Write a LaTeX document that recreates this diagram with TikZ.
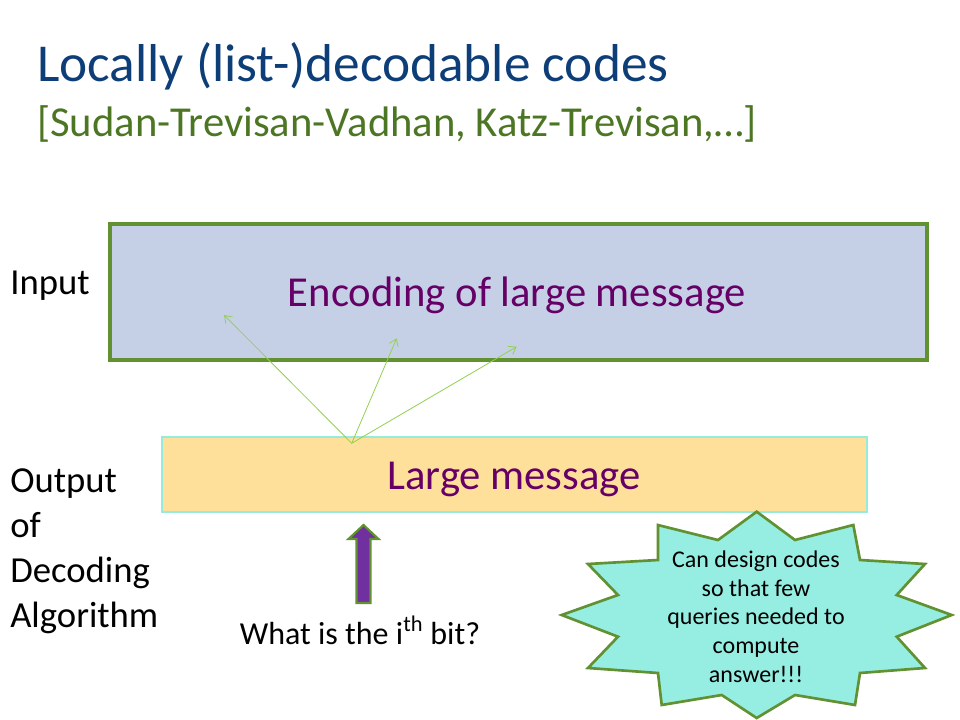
\documentclass[tikz,border=0pt]{standalone}
\usepackage{fontspec}
\setmainfont{Carlito}
\usetikzlibrary{arrows.meta}
\definecolor{titleblue}{RGB}{14,62,120}
\definecolor{subgreen}{RGB}{76,118,36}
\definecolor{boxblue}{RGB}{197,208,230}
\definecolor{boxgreen}{RGB}{98,145,50}
\definecolor{msgyellow}{RGB}{255,224,155}
\definecolor{msgcyan}{RGB}{150,235,220}
\definecolor{starfill}{RGB}{150,238,226}
\definecolor{arrgreen}{RGB}{146,208,80}
\definecolor{txtpurple}{RGB}{102,0,102}
\definecolor{arrpurple}{RGB}{112,48,160}
\tikzset{
  lbl/.style={font=\fontsize{27.5}{33.75}\selectfont, text=black, inner sep=0pt, align=left},
  boxtext/.style={text=txtpurple, font=\fontsize{32}{36}\selectfont, inner sep=0pt, anchor=base},
  query/.style={draw=arrgreen, line width=0.6pt, -{Straight Barb[length=5pt,width=7pt]}},
}
\begin{document}
\begin{tikzpicture}[x=0.75pt,y=-0.75pt]
\useasboundingbox (0,0) rectangle (960,720);
% title
\node[anchor=base west, inner sep=0pt, text=titleblue, font=\fontsize{40}{44}\selectfont] (title) at (37,82) {Locally (list-)decodable codes};
\node[anchor=base west, inner sep=0pt, text=subgreen, font=\fontsize{32}{36}\selectfont] (subtitle) at (37,137) {[Sudan-Trevisan-Vadhan, Katz-Trevisan,…]};
% boxes
\draw[draw=boxgreen, fill=boxblue, line width=2.4pt] (110,224) rectangle (927,360);
\node[boxtext] (enc) at (517,306) {Encoding of large message};
\draw[draw=msgcyan, fill=msgyellow, line width=1.6pt] (162,437) rectangle (867,512);
\node[boxtext] (msg) at (514,489) {Large message};
% labels
\node[lbl, anchor=base west] (input) at (10,295) {Input};
\node[lbl, anchor=base west] (output) at (10,627) {Output\\of\\Decoding\\Algorithm};
% query arrows
\coordinate (q0) at (351.7,443.3);
\coordinate (q1) at (224,315);
\coordinate (q2) at (396.7,338.3);
\coordinate (q3) at (516.7,346.7);
\draw[query] (q0) -- (q1);
\draw[query] (q0) -- (q2);
\draw[query] (q0) -- (q3);
% purple up arrow
\draw[draw=boxgreen, fill=arrpurple, line width=1.6pt, line join=miter]
  (356.5,603) -- (356.5,539) -- (348.5,539) -- (363.5,525) -- (378.5,539) -- (370.5,539) -- (370.5,603) -- cycle;
\node[font=\fontsize{24}{28}\selectfont, inner sep=0pt, anchor=base] (what) at (360,644) {What is the i\textsuperscript{th} bit?};
% starburst
\draw[draw=boxgreen, fill=starfill, line width=2pt, line join=miter]
  (756.7,511.7) -- (795,540) -- (853.3,525) -- (860,560) -- (925,564) -- (896.7,595)
  -- (951.7,615) -- (896.7,636.7) -- (925,668) -- (860,673) -- (855,705) -- (795,695)
  -- (756.7,718) -- (721.7,695) -- (661.7,705) -- (658,673) -- (588,668) -- (618,636.7)
  -- (561.7,615) -- (618,595) -- (588,564) -- (658,560) -- (658,525) -- (718,540) -- cycle;
\node[align=center, text=black, font=\fontsize{18}{21.5}\selectfont, inner sep=0pt, anchor=base] (burst) at (756,682)
  {Can design codes\\so that few\\queries needed to\\compute\\answer!!!};
\end{tikzpicture}
\end{document}
